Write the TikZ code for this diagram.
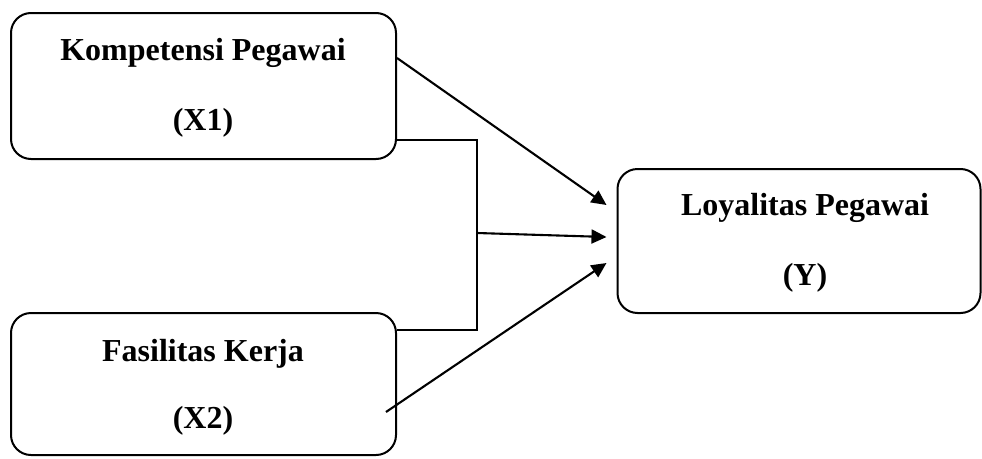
\documentclass[tikz,border=0pt]{standalone}
\usepackage{fontspec}
\setmainfont{Liberation Serif}
\usetikzlibrary{arrows.meta}
\begin{document}
\begin{tikzpicture}[x=1pt,y=-1pt,
  box/.style={draw, line width=2pt, rounded corners=20pt, inner sep=0pt},
  lbl/.style={anchor=base, font=\fontsize{32}{38}\selectfont\bfseries, inner sep=0pt},
  conn/.style={line width=2.1pt},
  arr/.style={conn, -{Triangle[length=15pt,width=14pt]}}]
\useasboundingbox (0,0) rectangle (982,458);
\node[box, minimum width=385pt, minimum height=146pt] (x1) at (203.5,86) {};
\node[box, minimum width=385pt, minimum height=142pt] (x2) at (203.5,384) {};
\node[box, minimum width=363pt, minimum height=144pt] (y) at (799,241) {};
\node[lbl] (x1a) at (203,60) {Kompetensi Pegawai};
\node[lbl] (x1b) at (203,130) {(X1)};
\node[lbl] (x2a) at (203,361) {Fasilitas Kerja};
\node[lbl] (x2b) at (203,428) {(X2)};
\node[lbl] (ya) at (805,215) {Loyalitas Pegawai};
\node[lbl] (yb) at (805,285) {(Y)};
\coordinate (j) at (477,233);
\draw[conn] ([yshift=-54pt]x1.east) -| (j) |- ([yshift=54pt]x2.east);
\draw[arr] ([yshift=28pt]x1.east) -- ([xshift=-10pt,yshift=36pt]y.west);
\draw[arr] (j) -- ([xshift=-10pt,yshift=4pt]y.west);
\draw[arr] ([xshift=-11pt,yshift=-28pt]x2.east) -- ([xshift=-10pt,yshift=-22pt]y.west);
\end{tikzpicture}
\end{document}
